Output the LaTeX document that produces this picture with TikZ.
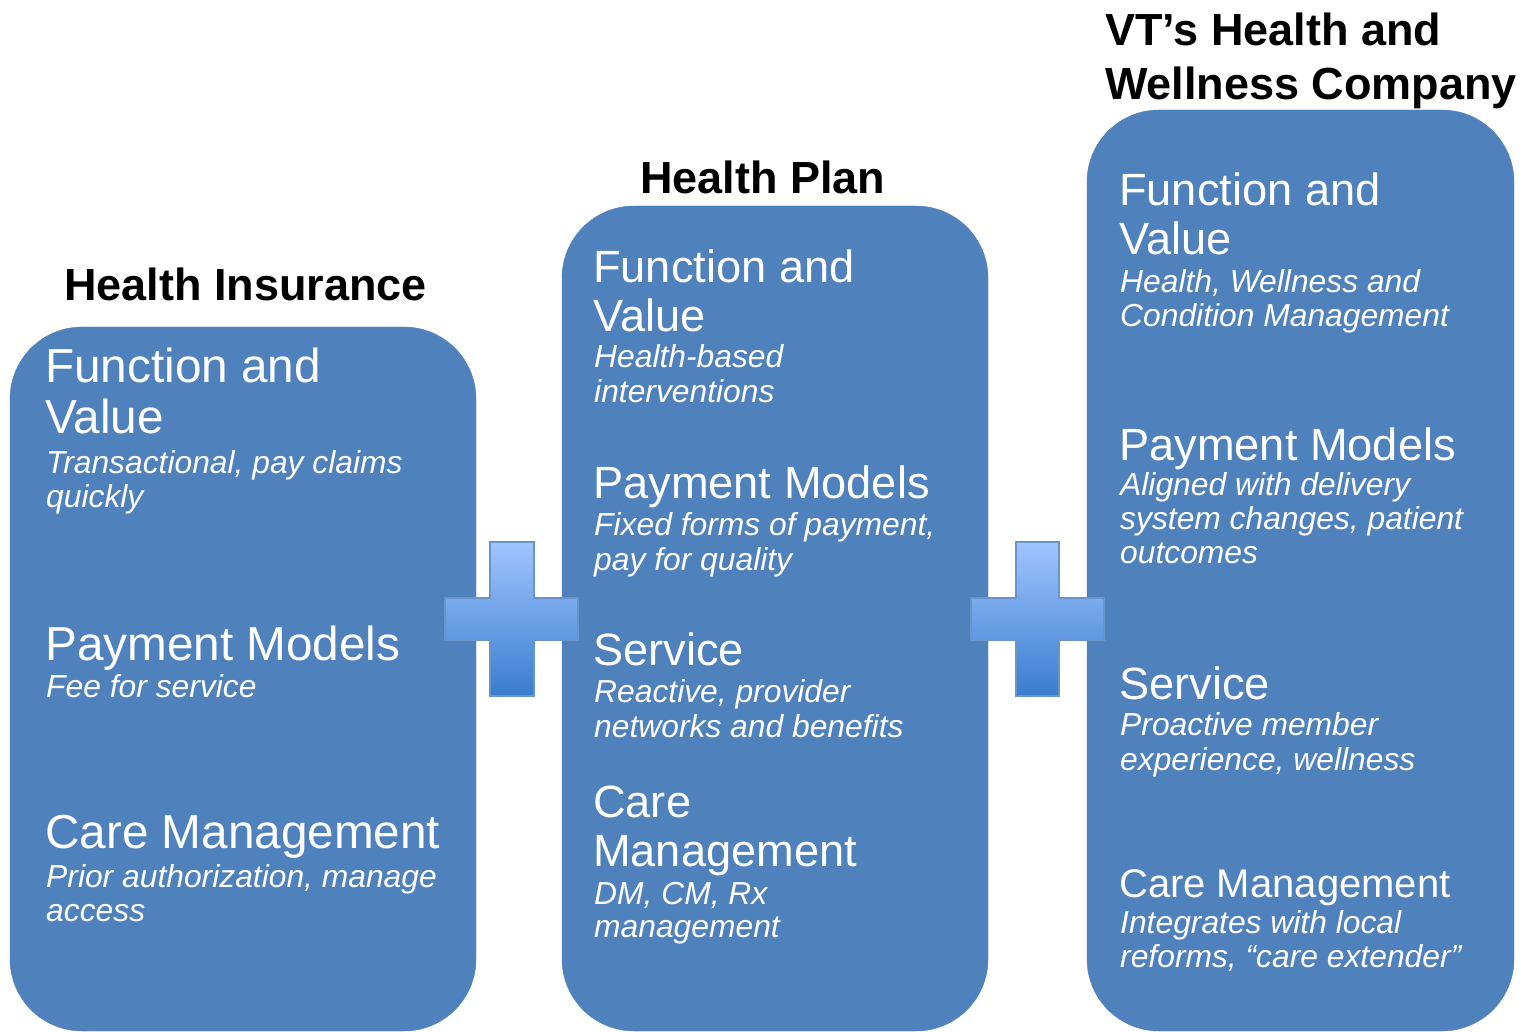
\documentclass[tikz,border=0pt]{standalone}
\usepackage{fontspec}
\setmainfont{Liberation Sans}
\definecolor{panelblue}{RGB}{79,129,189}
\definecolor{plustop}{RGB}{160,197,255}
\definecolor{plusbottom}{RGB}{58,124,206}
\tikzset{
  panel/.style={fill=panelblue, draw=panelblue, rounded corners=72pt},
  plus/.style={top color=plustop, bottom color=plusbottom, draw=panelblue!85!white, line width=1.5pt},
  head/.style={anchor=north west, inner sep=0pt, align=left, font=\fontsize{45}{54}\selectfont\bfseries},
  topic/.style={anchor=north west, inner sep=0pt, align=left, text=white, font=\fontsize{45.2}{49}\selectfont},
  bigtopic/.style={topic, font=\fontsize{47.7}{51}\selectfont},
  note/.style={anchor=north west, inner sep=0pt, align=left, text=white, font=\fontsize{31.8}{35}\selectfont\itshape}
}
\begin{document}
\begin{tikzpicture}[x=1pt,y=-1pt]
    \useasboundingbox (0,0) rectangle (1521,1032);

    % the three panels
    \draw[panel] (10,327) rectangle (476,1031);
    \draw[panel] (562,206) rectangle (988,1031);
    \draw[panel] (1087,110) rectangle (1514,1031);

    % plus signs between the panels
    \draw[plus] (490,542) -- (534,542) -- (534,598) -- (578,598) -- (578,640) -- (534,640)
      -- (534,696) -- (490,696) -- (490,640) -- (445,640) -- (445,598) -- (490,598) -- cycle;
    \draw[plus] (1016,542) -- (1059,542) -- (1059,598) -- (1104,598) -- (1104,640) -- (1059,640)
      -- (1059,696) -- (1016,696) -- (1016,640) -- (971,640) -- (971,598) -- (1016,598) -- cycle;

    % headings
    \node[head] (insHead) at (64,268) {Health Insurance};
    \node[head] (planHead) at (640,161) {Health Plan};
    \node[head] (vtHead) at (1105,13) {VT’s Health and\\Wellness Company};

    % Health Insurance
    \node[bigtopic] (insFunc) at (45,348) {Function and\\Value};
    \node[note, font=\fontsize{31.8}{34}\selectfont\itshape] (insFuncTxt) at (46,450) {Transactional, pay claims\\quickly};
    \node[bigtopic] (insPay) at (45,626) {Payment Models};
    \node[note] (insPayTxt) at (46,674) {Fee for service};
    \node[bigtopic] (insCare) at (45,815) {Care Management};
    \node[note, font=\fontsize{31.8}{34}\selectfont\itshape] (insCareTxt) at (46,864) {Prior authorization, manage\\access};

    % Health Plan
    \node[topic] (planFunc) at (593,250) {Function and\\Value};
    \node[note] (planFuncTxt) at (594,344) {Health-based\\interventions};
    \node[topic] (planPay) at (593,466) {Payment Models};
    \node[note] (planPayTxt) at (594,512) {Fixed forms of payment,\\pay for quality};
    \node[topic] (planServ) at (593,633) {Service};
    \node[note] (planServTxt) at (594,679) {Reactive, provider\\networks and benefits};
    \node[topic] (planCare) at (593,786) {Care\\Management};
    \node[note, font=\fontsize{31.8}{33}\selectfont\itshape] (planCareTxt) at (594,882) {DM, CM, Rx\\management};

    % VT's Health and Wellness Company
    \node[topic] (vtFunc) at (1119,173) {Function and\\Value};
    \node[note, font=\fontsize{31.8}{34}\selectfont\itshape] (vtFuncTxt) at (1120,269) {Health, Wellness and\\Condition Management};
    \node[topic] (vtPay) at (1119,428) {Payment Models};
    \node[note, font=\fontsize{31.8}{34}\selectfont\itshape] (vtPayTxt) at (1120,472) {Aligned with delivery\\system changes, patient\\outcomes};
    \node[topic] (vtServ) at (1119,667) {Service};
    \node[note] (vtServTxt) at (1120,712) {Proactive member\\experience, wellness};
    \node[topic, font=\fontsize{40}{44}\selectfont] (vtCare) at (1119,869) {Care Management};
    \node[note, font=\fontsize{31.8}{34}\selectfont\itshape] (vtCareTxt) at (1120,910) {Integrates with local\\reforms, “care extender”};
\end{tikzpicture}
\end{document}
